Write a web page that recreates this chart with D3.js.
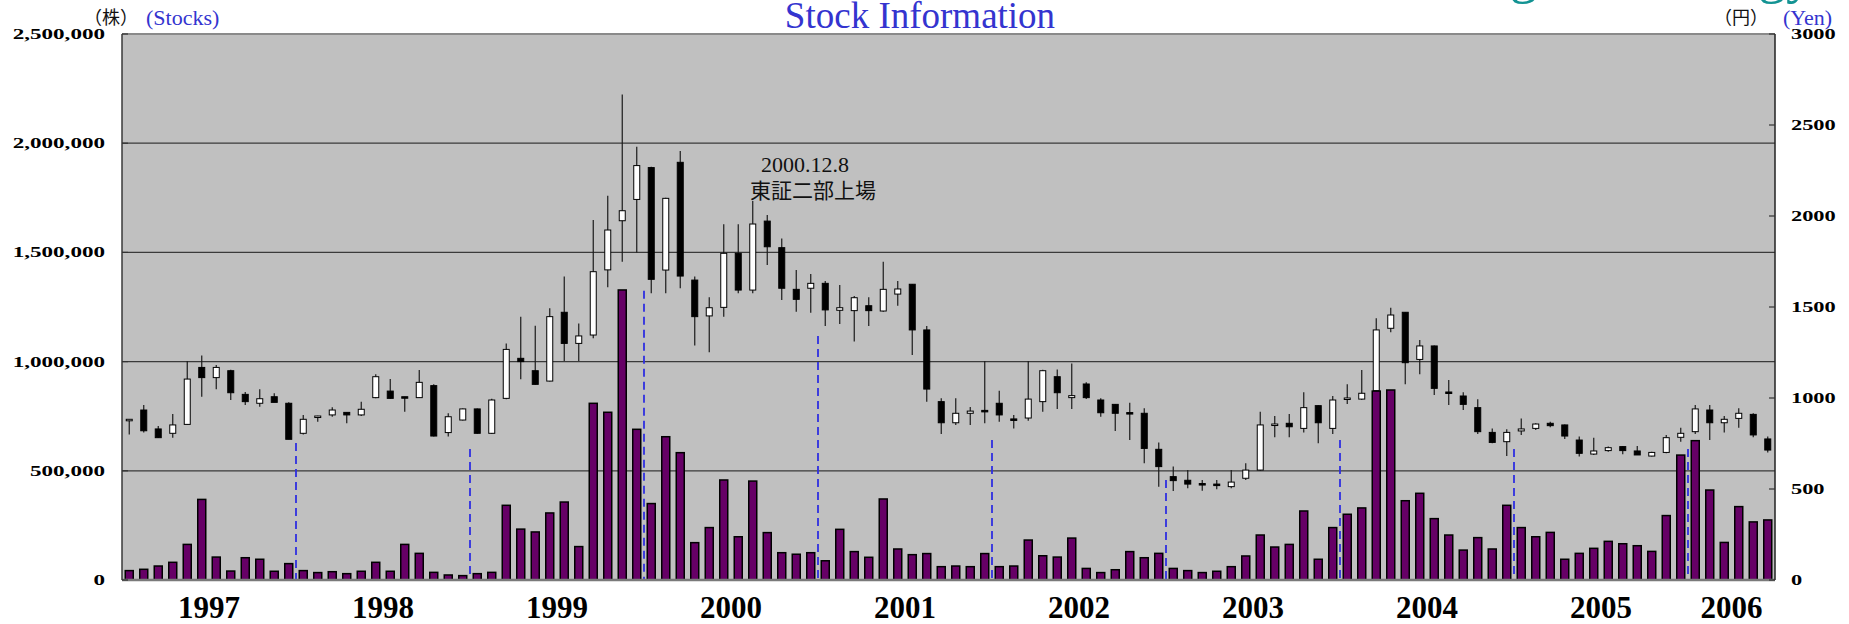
<!DOCTYPE html>
<html>
<head>
<meta charset="utf-8">
<script src="https://cdn.jsdelivr.net/npm/d3@7"></script>
<style>
  body { margin: 0; background: #fff; }
  svg { display: block; }
</style>
</head>
<body>
<div id="graf"></div>
<script>
// monthly data, May 1997 - Oct 2006 (fiscal years start in May)
const months = [
  "1997-05", "1997-06", "1997-07", "1997-08", "1997-09", "1997-10", "1997-11", "1997-12",
  "1998-01", "1998-02", "1998-03", "1998-04", "1998-05", "1998-06", "1998-07", "1998-08", "1998-09", "1998-10", "1998-11", "1998-12",
  "1999-01", "1999-02", "1999-03", "1999-04", "1999-05", "1999-06", "1999-07", "1999-08", "1999-09", "1999-10", "1999-11", "1999-12",
  "2000-01", "2000-02", "2000-03", "2000-04", "2000-05", "2000-06", "2000-07", "2000-08", "2000-09", "2000-10", "2000-11", "2000-12",
  "2001-01", "2001-02", "2001-03", "2001-04", "2001-05", "2001-06", "2001-07", "2001-08", "2001-09", "2001-10", "2001-11", "2001-12",
  "2002-01", "2002-02", "2002-03", "2002-04", "2002-05", "2002-06", "2002-07", "2002-08", "2002-09", "2002-10", "2002-11", "2002-12",
  "2003-01", "2003-02", "2003-03", "2003-04", "2003-05", "2003-06", "2003-07", "2003-08", "2003-09", "2003-10", "2003-11", "2003-12",
  "2004-01", "2004-02", "2004-03", "2004-04", "2004-05", "2004-06", "2004-07", "2004-08", "2004-09", "2004-10", "2004-11", "2004-12",
  "2005-01", "2005-02", "2005-03", "2005-04", "2005-05", "2005-06", "2005-07", "2005-08", "2005-09", "2005-10", "2005-11", "2005-12",
  "2006-01", "2006-02", "2006-03", "2006-04", "2006-05", "2006-06", "2006-07", "2006-08", "2006-09", "2006-10"
];

const fiscalYears = ["1997", "1998", "1999", "2000", "2001", "2002", "2003", "2004", "2005", "2006"];

// prices (yen)
const opens = [
  883, 934, 830, 806, 855, 1168, 1112, 1150, 1020, 971, 1007, 971,
  806, 894, 907, 921, 907, 1002, 1038, 1007, 1002, 1068, 810, 879,
  940, 806, 998, 1218, 1150, 1093, 1471, 1300, 1346, 1704, 1974, 2091,
  2266, 1703, 2295, 1648, 1451, 1498, 1795, 1593, 1972, 1826, 1597, 1603,
  1630, 1482, 1480, 1507, 1478, 1571, 1625, 1374, 980, 864, 916, 932,
  971, 885, 890, 980, 1117, 1002, 1077, 989, 965, 920, 916, 718,
  568, 548, 530, 527, 513, 559, 604, 855, 861, 833, 958, 833,
  998, 994, 1040, 1383, 1471, 1212, 1286, 1033, 1011, 947, 811, 760,
  819, 833, 861, 852, 769, 692, 711, 733, 709, 681, 701, 784,
  815, 934, 864, 888, 910, 775
];
const highs = [
  883, 962, 846, 912, 1203, 1233, 1181, 1155, 1033, 1048, 1026, 976,
  907, 903, 949, 921, 980, 1130, 1104, 1007, 1154, 1075, 916, 942,
  942, 996, 1300, 1447, 1397, 1493, 1667, 1410, 1978, 2111, 2668, 2381,
  2270, 2100, 2357, 1667, 1553, 1954, 1954, 1960, 2005, 1877, 1703, 1681,
  1643, 1621, 1560, 1553, 1749, 1643, 1627, 1396, 998, 998, 950, 1203,
  1040, 907, 1203, 1155, 1157, 1190, 1086, 998, 967, 974, 943, 755,
  623, 604, 549, 549, 604, 641, 925, 901, 912, 1031, 960, 1011,
  1075, 1154, 1438, 1496, 1473, 1319, 1288, 1099, 1031, 993, 833, 828,
  888, 861, 870, 855, 788, 782, 733, 736, 736, 705, 797, 837,
  962, 962, 901, 943, 916, 788
];
const lows = [
  800, 810, 780, 782, 855, 1007, 1048, 989, 962, 952, 976, 773,
  800, 870, 897, 861, 901, 998, 996, 925, 1000, 788, 788, 877,
  804, 802, 993, 1103, 1073, 1090, 1203, 1203, 1328, 1609, 1749, 1799,
  1575, 1575, 1603, 1288, 1251, 1447, 1575, 1575, 1731, 1538, 1474, 1469,
  1396, 1407, 1310, 1396, 1474, 1507, 1236, 980, 802, 852, 852, 861,
  870, 833, 875, 925, 940, 940, 994, 897, 819, 769, 641, 513,
  489, 504, 491, 498, 504, 549, 600, 784, 784, 810, 751, 802,
  967, 989, 1020, 1361, 1075, 1130, 1016, 962, 934, 802, 751, 681,
  797, 824, 839, 775, 678, 687, 705, 691, 687, 678, 696, 760,
  802, 769, 810, 837, 784, 701
];
const closes = [
  883, 820, 782, 852, 1104, 1112, 1168, 1029, 980, 996, 976, 773,
  883, 901, 934, 907, 938, 1117, 998, 1004, 1086, 791, 897, 940,
  806, 989, 1267, 1200, 1075, 1447, 1300, 1341, 1694, 1923, 2029, 2277,
  1652, 2097, 1670, 1447, 1496, 1795, 1593, 1956, 1831, 1603, 1542, 1630,
  1484, 1496, 1551, 1480, 1597, 1599, 1374, 1049, 864, 916, 928, 928,
  907, 880, 994, 1150, 1029, 1013, 1002, 919, 916, 914, 723, 623,
  546, 527, 524, 525, 538, 604, 852, 857, 842, 947, 864, 989,
  1000, 1026, 1374, 1456, 1194, 1286, 1053, 1029, 965, 815, 756, 811,
  830, 857, 848, 791, 696, 709, 727, 711, 687, 701, 782, 806,
  940, 864, 883, 916, 797, 714
];

// monthly volume (shares)
const volumes = [
  43000, 49000, 64000, 81000, 163000, 369000, 105000, 41000, 102000, 95000, 40000, 75000,
  43000, 34000, 38000, 29000, 40000, 81000, 40000, 163000, 122000, 35000, 23000, 20000,
  29000, 35000, 342000, 233000, 220000, 307000, 357000, 153000, 809000, 768000, 1328000, 690000,
  350000, 656000, 583000, 171000, 240000, 458000, 198000, 453000, 217000, 125000, 118000, 125000,
  88000, 232000, 130000, 104000, 371000, 142000, 116000, 121000, 61000, 64000, 61000, 121000,
  61000, 64000, 183000, 111000, 105000, 192000, 53000, 34000, 47000, 130000, 102000, 122000,
  53000, 43000, 34000, 40000, 61000, 110000, 206000, 151000, 163000, 316000, 95000, 240000,
  301000, 330000, 865000, 870000, 363000, 397000, 281000, 206000, 137000, 194000, 142000, 342000,
  240000, 198000, 218000, 95000, 122000, 145000, 177000, 166000, 157000, 131000, 295000, 572000,
  638000, 412000, 172000, 336000, 266000, 275000
];

// top of the dashed fiscal-year separators (yen), one per year change
const fyMarkTops = [753, 720, 1589, 1341, 769, 549, 769, 720, 720];

const volumeTicks = [0, 500000, 1000000, 1500000, 2000000, 2500000];
const priceTicks = [0, 500, 1000, 1500, 2000, 2500, 3000];

const listingMonth = "2000-12";

const ancho_total = 1849;
const alto_total = 624;
const margins = { top: 34, left: 122, right: 74, bottom: 44 };
const izq = margins.left;
const der = ancho_total - margins.right;
const arriba = margins.top;
const abajo = alto_total - margins.bottom;

const svg = d3.select("#graf")
  .append("svg")
  .attr("width", ancho_total)
  .attr("height", alto_total);

const x = d3.scaleBand().domain(months).range([izq, der]).padding(0);
const yVol = d3.scaleLinear().domain([0, 2500000]).range([abajo, arriba]);
const yPx = d3.scaleLinear().domain([0, 3000]).range([abajo, arriba]);
const cx = (m) => x(m) + x.bandwidth() / 2;

const serif = "'Liberation Serif', 'Times New Roman', serif";
const cjk = "'Noto Sans CJK JP', sans-serif";

// plot background
svg.append("rect")
  .attr("x", izq).attr("y", arriba)
  .attr("width", der - izq).attr("height", abajo - arriba)
  .attr("fill", "#c0c0c0");

// gridlines
svg.append("g").selectAll("line")
  .data(volumeTicks.filter((t) => t > 0 && t < 2500000))
  .join("line")
  .attr("x1", izq).attr("x2", der)
  .attr("y1", (d) => yVol(d)).attr("y2", (d) => yVol(d))
  .attr("stroke", "#3a3a3a").attr("stroke-width", 1.2);

// candles
const data = months.map((m, i) => ({
  m, o: opens[i], h: highs[i], l: lows[i], c: closes[i], v: volumes[i]
}));

const candles = svg.append("g");
candles.selectAll("line")
  .data(data)
  .join("line")
  .attr("x1", (d) => cx(d.m)).attr("x2", (d) => cx(d.m))
  .attr("y1", (d) => yPx(d.h)).attr("y2", (d) => yPx(d.l))
  .attr("stroke", "#1a1a1a").attr("stroke-width", 1.2);

candles.selectAll("rect")
  .data(data)
  .join("rect")
  .attr("x", (d) => cx(d.m) - 3)
  .attr("width", 6)
  .attr("y", (d) => yPx(Math.max(d.o, d.c)))
  .attr("height", (d) => Math.max(1.5, Math.abs(yPx(d.o) - yPx(d.c))))
  .attr("fill", (d) => (d.c >= d.o ? "#ffffff" : "#000000"))
  .attr("stroke", "#000").attr("stroke-width", 1);

// volume bars
svg.append("g").selectAll("rect")
  .data(data)
  .join("rect")
  .attr("x", (d) => cx(d.m) - 4)
  .attr("width", 8)
  .attr("y", (d) => yVol(d.v))
  .attr("height", (d) => abajo - yVol(d.v))
  .attr("fill", "#660066")
  .attr("stroke", "#000").attr("stroke-width", 1.5);

// fiscal year separators
svg.append("g").selectAll("line")
  .data(fyMarkTops)
  .join("line")
  .attr("x1", (d, i) => x(months[12 * (i + 1)]))
  .attr("x2", (d, i) => x(months[12 * (i + 1)]))
  .attr("y1", (d) => yPx(d)).attr("y2", abajo)
  .attr("stroke", "#2f2fe0").attr("stroke-width", 1.8)
  .attr("stroke-dasharray", "8,5");

// frame
svg.append("line").attr("x1", izq).attr("x2", der).attr("y1", arriba).attr("y2", arriba)
  .attr("stroke", "#8a8a8a").attr("stroke-width", 2);
svg.append("line").attr("x1", izq).attr("x2", der).attr("y1", abajo).attr("y2", abajo)
  .attr("stroke", "#7a7a7a").attr("stroke-width", 2.5);
svg.append("line").attr("x1", izq).attr("x2", izq).attr("y1", arriba).attr("y2", abajo)
  .attr("stroke", "#3a3a3a").attr("stroke-width", 1.5);
svg.append("line").attr("x1", der).attr("x2", der).attr("y1", arriba).attr("y2", abajo)
  .attr("stroke", "#222").attr("stroke-width", 1.5);

// left axis (shares)
const ejeIzq = svg.append("g").selectAll("g")
  .data(volumeTicks)
  .join("g")
  .attr("transform", (d) => `translate(0, ${yVol(d)})`);
ejeIzq.append("line").attr("x1", izq).attr("x2", izq + 6)
  .attr("stroke", "#333").attr("stroke-width", 1.2);
ejeIzq.append("g")
  .attr("transform", "translate(105, 0) scale(1.65, 1)")
  .append("text")
  .attr("text-anchor", "end").attr("dy", "0.35em")
  .style("font-family", serif).style("font-weight", "bold").style("font-size", "14px")
  .text((d) => d3.format(",")(d));

// right axis (yen)
const ejeDer = svg.append("g").selectAll("g")
  .data(priceTicks)
  .join("g")
  .attr("transform", (d) => `translate(0, ${yPx(d)})`);
ejeDer.append("line").attr("x1", der - 6).attr("x2", der)
  .attr("stroke", "#333").attr("stroke-width", 1.2);
ejeDer.append("g")
  .attr("transform", "translate(1791, 0) scale(1.6, 1)")
  .append("text")
  .attr("text-anchor", "start").attr("dy", "0.35em")
  .style("font-family", serif).style("font-weight", "bold").style("font-size", "14px")
  .text((d) => d);

// fiscal year labels, centred on each year's months
const fyOf = (m) => {
  const yr = +m.slice(0, 4), mo = +m.slice(5, 7);
  return String(mo >= 5 ? yr : yr - 1);
};
svg.append("g").selectAll("text")
  .data(fiscalYears)
  .join("text")
  .attr("x", (fy) => {
    const ms = months.filter((m) => fyOf(m) === fy);
    return (cx(ms[0]) + cx(ms[ms.length - 1])) / 2;
  })
  .attr("y", 618)
  .attr("text-anchor", "middle")
  .style("font-family", serif).style("font-weight", "bold").style("font-size", "31px")
  .text((d) => d);

// titles and units
svg.append("text")
  .attr("x", 920).attr("y", 28).attr("text-anchor", "middle")
  .style("font-family", serif).style("font-size", "37px").attr("fill", "#3434cf")
  .text("Stock Information");

// company slogan, mostly above the picture edge
svg.append("text")
  .attr("x", 1814).attr("y", -8).attr("text-anchor", "end")
  .style("font-family", serif).style("font-size", "56px").attr("fill", "#139393")
  .text("Creating Technology");

svg.append("text").attr("x", 84).attr("y", 24)
  .style("font-family", cjk).style("font-size", "18px").attr("fill", "#111")
  .text("（株）");
svg.append("text").attr("x", 146).attr("y", 25)
  .style("font-family", serif).style("font-size", "22px").attr("fill", "#3434cf")
  .text("(Stocks)");
svg.append("text").attr("x", 1714).attr("y", 24)
  .style("font-family", cjk).style("font-size", "18px").attr("fill", "#111")
  .text("（円）");
svg.append("text").attr("x", 1783).attr("y", 25)
  .style("font-family", serif).style("font-size", "22px").attr("fill", "#3434cf")
  .text("(Yen)");

// listing annotation
const listing = data.find((d) => d.m === listingMonth);
svg.append("line")
  .attr("x1", cx(listingMonth)).attr("x2", cx(listingMonth))
  .attr("y1", 201).attr("y2", yPx(listing.h))
  .attr("stroke", "#1a1a1a").attr("stroke-width", 1.2);
svg.append("text").attr("x", 805).attr("y", 172).attr("text-anchor", "middle")
  .style("font-family", serif).style("font-size", "22px").attr("fill", "#111")
  .text("2000.12.8");
svg.append("text").attr("x", 813).attr("y", 198).attr("text-anchor", "middle")
  .style("font-family", cjk).style("font-size", "21px").attr("fill", "#111")
  .text("東証二部上場");
</script>
</body>
</html>
